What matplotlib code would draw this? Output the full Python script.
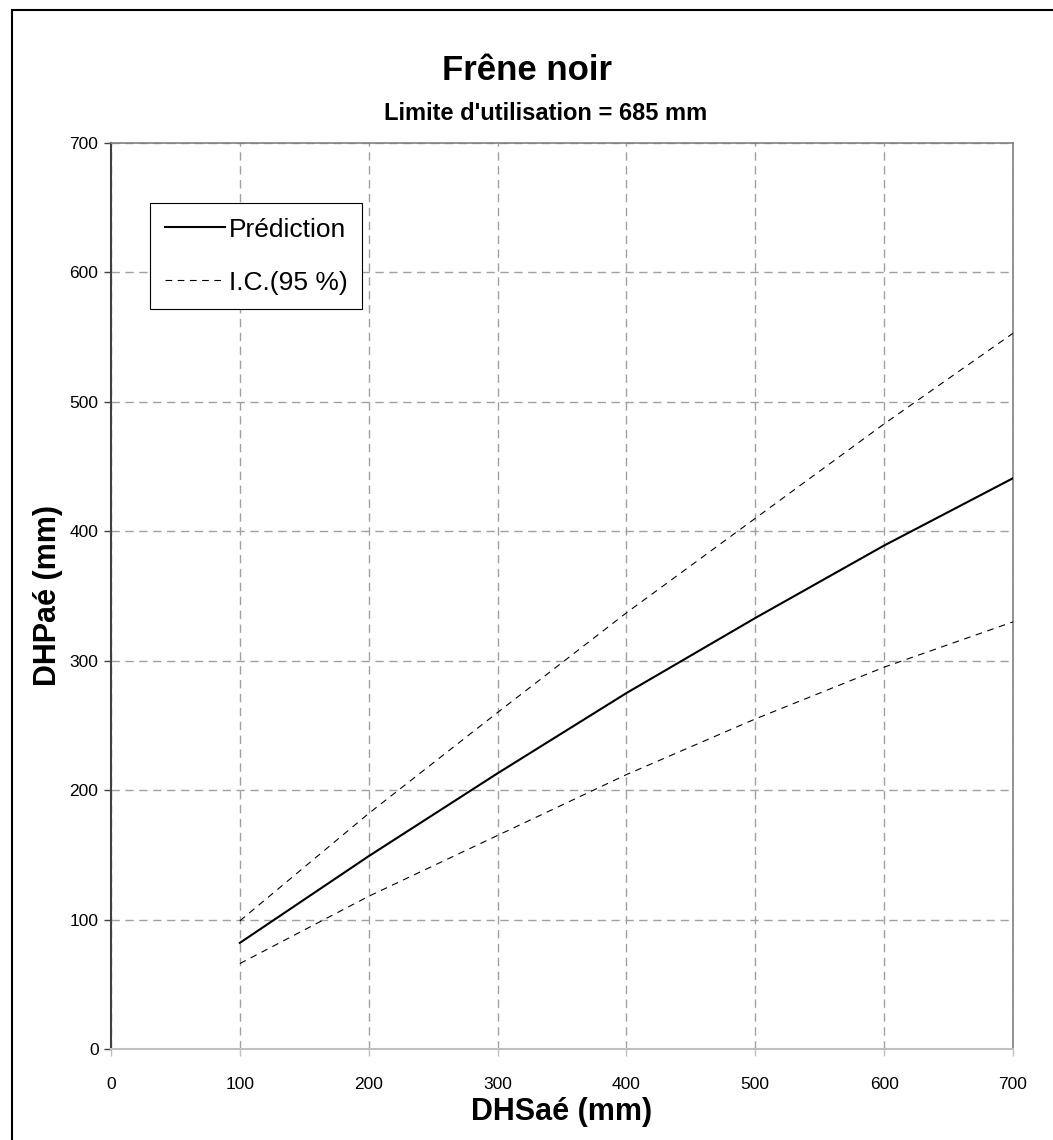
import matplotlib
matplotlib.use("Agg")
import matplotlib.pyplot as plt
from matplotlib.patches import Rectangle

plt.rcParams['font.family'] = ['Liberation Sans', 'DejaVu Sans']

# DHSaé (mm) and model output (mm)
dhs = [100, 200, 300, 400, 500, 600, 700]
prediction = [82, 149, 213, 275, 333, 389, 441]
ic_upper = [99, 182, 260, 337, 410, 483, 553]
ic_lower = [66, 118, 165, 212, 255, 295, 330]

x_ticks = [0, 100, 200, 300, 400, 500, 600, 700]
y_ticks = [0, 100, 200, 300, 400, 500, 600, 700]

W, H = 1053, 1140
fig = plt.figure(figsize=(W / 100, H / 100), dpi=100)
ax = fig.add_axes([111 / W, 1 - 1049 / H, (1013 - 111) / W, (1049 - 143) / H])

ax.set_xlim(0, 700)
ax.set_ylim(0, 700)
ax.set_xticks(x_ticks)
ax.set_yticks(y_ticks)

ax.grid(True, color='#a0a0a0', linestyle=(0, (6, 4)), linewidth=1.0)
ax.set_axisbelow(True)

ax.plot(dhs, prediction, color='black', linewidth=1.5, label='Prédiction', zorder=3)
ax.plot(dhs, ic_upper, color='black', linewidth=0.8, linestyle=(0, (6, 5)),
        label='I.C.(95 %)', zorder=3)
ax.plot(dhs, ic_lower, color='black', linewidth=0.8, linestyle=(0, (6, 5)), zorder=3)

for side in ('top', 'right'):
    ax.spines[side].set_color('#808080')
    ax.spines[side].set_linewidth(1.2)
ax.spines['left'].set_color('#404040')
ax.spines['left'].set_linewidth(1.5)
ax.spines['bottom'].set_color('#c0c0c0')
ax.spines['bottom'].set_linewidth(1.5)

ax.tick_params(axis='y', direction='out', length=5, width=1, color='#404040',
               labelsize=12.5, pad=4)
ax.tick_params(axis='x', direction='out', length=5, width=1, color='#c0c0c0',
               labelsize=12.5, labelcolor='black', pad=15)

ax.set_xlabel('DHSaé (mm)', fontsize=22, fontweight='bold', labelpad=4)
ax.set_ylabel('DHPaé (mm)', fontsize=22, fontweight='bold', labelpad=5)

fig.text(527 / W, 1 - 70 / H, 'Frêne noir', ha='center', va='center',
         fontsize=25, fontweight='bold')
fig.text(546 / W, 1 - 114 / H, "Limite d'utilisation = 685 mm", ha='center',
         va='center', fontsize=17, fontweight='bold')

leg = ax.legend(loc='upper left', bbox_to_anchor=(39 / 902, 1 - 60 / 906),
                fontsize=19, frameon=True, fancybox=False, edgecolor='black',
                framealpha=1, handlelength=2.3, handletextpad=0.15,
                borderpad=0.55, labelspacing=1.1, borderaxespad=0)
leg.get_frame().set_linewidth(0.8)

# outer frame of the chart area
fig.patches.append(Rectangle((12 / W, -0.05), 1.1, 1 - 10 / H + 0.05,
                             transform=fig.transFigure, fill=False,
                             edgecolor='black', linewidth=1.5, clip_on=False))

fig.savefig('out.png', dpi=100)
